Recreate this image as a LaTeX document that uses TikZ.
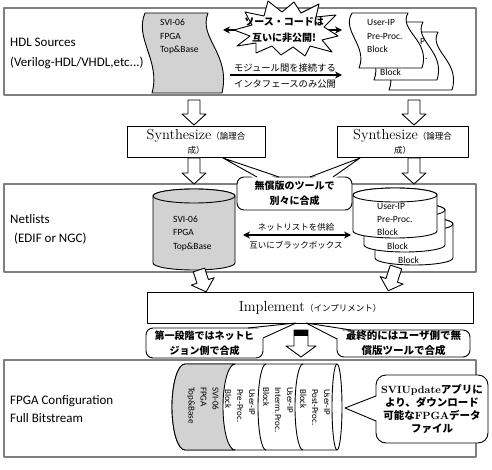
\documentclass[tikz,border=0pt]{standalone}
\usepackage{fontspec}
\usetikzlibrary{arrows.meta}
\newfontfamily\calfont{Carlito}
\newfontfamily\jpfont{Noto Sans CJK JP}
\definecolor{docgray}{RGB}{210,210,210}
\definecolor{panelgray}{RGB}{128,128,128}
% wavy document: x y w h fill
\newcommand{\wavydoc}[5]{%
  \draw[line width=0.9pt, fill=#5] (#1,#2) -- ({#1+#3},#2)
    .. controls ({#1+#3-10},{#2+0.32*#4}) and ({#1+#3+23},{#2+0.5*#4}) .. ({#1+#3+14},{#2+#4})
    -- ({#1+7},{#2+#4})
    .. controls ({#1+16},{#2+0.6*#4}) and ({#1-11},{#2+0.32*#4}) .. (#1,#2) -- cycle;}
% vertical cylinder: cx topcy botcy rx fill
\newcommand{\vcyl}[5]{%
  \draw[line width=0.9pt, fill=#5] ({#1-#4},#2) -- ({#1-#4},#3)
    arc[start angle=180, end angle=0, x radius=#4, y radius=7] -- ({#1+#4},#2)
    arc[start angle=0, end angle=-180, x radius=#4, y radius=7] -- cycle;
  \draw[line width=0.9pt, fill=#5] (#1,#2) ellipse[x radius=#4, y radius=7];}
% block arrow: cx ytop length rotation shafthalf headhalf
\newcommand{\barrow}[6]{%
  \begin{scope}[shift={(#1,#2)}, rotate=#4]
    \draw[line width=0.9pt, fill=white] (-#5,0) -- (#5,0) -- (#5,{#3-11}) -- (#6,{#3-11})
      -- (0,#3) -- (-#6,{#3-11}) -- (-#5,{#3-11}) -- cycle;
  \end{scope}}
\begin{document}
\begin{tikzpicture}[x=1pt, y=-1pt, line join=round,
  panel/.style={draw=panelgray, line width=1.2pt, fill=white},
  box/.style={draw=black, line width=0.9pt, fill=white, inner sep=0pt, align=center},
  callout/.style={draw=black, line width=0.9pt, fill=white, rounded corners=7pt, inner sep=0pt, align=center},
  lbl/.style={anchor=base west, inner sep=0pt, font=\calfont\fontsize{13}{15}\selectfont},
  doctext/.style={anchor=base west, inner sep=0pt, font=\calfont\fontsize{9.5}{11}\selectfont},
  jpsmall/.style={inner sep=0pt, font=\jpfont\fontsize{9.3}{11}\selectfont},
  jpnet/.style={inner sep=0pt, font=\jpfont\fontsize{8.5}{10}\selectfont},
  jpbold/.style={inner sep=0pt, font=\jpfont\bfseries\fontsize{10}{12}\selectfont},
  dbl/.style={line width=1.5pt, {Stealth[length=7pt,width=7pt]}-{Stealth[length=7pt,width=7pt]}},
  sgl/.style={line width=1.5pt, -{Stealth[length=7pt,width=7pt]}},
  rot/.style={rotate=-90, anchor=north west, inner sep=0pt, align=left, font=\calfont\fontsize{9}{12}\selectfont},
]
\useasboundingbox (0,0) rectangle (492,470);
\fill[white] (0,0) rectangle (492,470);

% ---------------- panels
\draw[panel] (4,8) rectangle (476,95);
\draw[panel] (4,184) rectangle (476,272);
\draw[panel] (4,360) rectangle (476,457);

% ---------------- panel 1
\node[lbl] (hdl1) at (10,47) {HDL Sources};
\node[lbl] (hdl2) at (10,67) {(Verilog-HDL/VHDL,etc...)};

\wavydoc{145}{13}{63}{80}{docgray}
\node[doctext] (g1) at (160,26) {SVI-06};
\node[doctext] (g2) at (160,40) {FPGA};
\node[doctext] (g3) at (160,53) {Top\&Base};

\wavydoc{382}{32}{56}{58}{white}
\wavydoc{367}{22}{56}{58}{white}
\node[doctext] (d21) at (420,45) {P};
\node[doctext] (d22) at (425,60) {.};
\node[doctext] (d23) at (380,76) {Block};
\wavydoc{352}{13}{56}{55}{white}
\node[doctext] (u1) at (367,26) {User-IP};
\node[doctext] (u2) at (367,40) {Pre-Proc.};
\node[doctext] (u3) at (367,53) {Block};

\coordinate (srcL) at (223,30);
\coordinate (srcR) at (342,30);
\draw[dbl] (srcL) -- (srcR);
\draw[line width=0.9pt, fill=white] (234,30) -- (252,25) -- (245,12) -- (264,16) -- (268,1) -- (282,12)
  -- (294,2) -- (301,13) -- (319,4) -- (316,17) -- (336,15) -- (324,27) -- (338,36) -- (322,40)
  -- (332,52) -- (310,46) -- (305,56) -- (293,47) -- (281,55) -- (272,46) -- (256,53) -- (256,43)
  -- (237,46) -- (250,36) -- cycle;
\node[jpbold] (st1) at (284,22) {ソース・コードは};
\node[jpbold] (st2) at (284,38) {互いに非公開!};

\node[jpsmall] (m1) at (285,68) {モジュール間を接続する};
\coordinate (ifL) at (230,75);
\coordinate (ifR) at (342,75);
\draw[sgl] (ifL) -- (ifR);
\node[jpsmall] (m2) at (285,84) {インタフェースのみ公開};

% ---------------- synthesize
\barrow{194}{100}{25}{0}{6}{12}
\barrow{414}{100}{25}{0}{6}{12}
\node[box, minimum width=138pt, minimum height=31pt, font=\fontsize{14.5}{14}\selectfont] (syn1) at (196,141.5)
  {Synthesize{\jpfont\fontsize{8.5}{10}\selectfont （論理合}\\{\jpfont\fontsize{8.5}{10}\selectfont 成）}};
\node[box, minimum width=131pt, minimum height=31pt, font=\fontsize{14.5}{14}\selectfont] (syn2) at (402.5,142)
  {Synthesize{\jpfont\fontsize{8.5}{10}\selectfont （論理合}\\{\jpfont\fontsize{8.5}{10}\selectfont 成）}};
\barrow{194}{158}{26}{0}{6}{12}
\barrow{414}{158}{26}{0}{6}{12}

% ---------------- panel 2
\node[lbl] (net1) at (10,224) {Netlists};
\node[lbl] (net2) at (14,243) {(EDIF or NGC)};

\vcyl{194}{196}{263}{41}{docgray}
\node[doctext] (c1) at (173,223) {SVI-06};
\node[doctext] (c2) at (173,236) {FPGA};
\node[doctext] (c3) at (173,250) {Top\&Base};

\vcyl{414}{224}{258}{39}{white}
\node[doctext] (b3) at (398,263) {Block};
\vcyl{404.5}{210}{245}{40.5}{white}
\node[doctext] (b2) at (387,250) {Block};
\vcyl{395}{195}{231}{42}{white}
\node[doctext] (f1) at (377,210) {User-IP};
\node[doctext] (f2) at (377,223) {Pre-Proc.};
\node[doctext] (f3) at (377,236) {Block};

\node[jpnet] (n1) at (296,227) {ネットリストを供給};
\coordinate (nlL) at (243,235);
\coordinate (nlR) at (351,235);
\draw[dbl] (nlL) -- (nlR);
\node[jpnet] (n2) at (296,245) {互いにブラックボックス};

% callout between the synthesize boxes
\node[callout, minimum width=115pt, minimum height=33pt, font=\jpfont\bfseries\fontsize{10}{15}\selectfont] (cfree) at (294.5,193.5)
  {無償版のツールで\\別々に合成};
\coordinate (tipA) at (223,158);
\coordinate (tipB) at (360,158);
\fill[white] (tipA) -- (256,179.5) -- (280,179.5) -- cycle;
\draw[line width=0.9pt] (257,177) -- (tipA) -- (279,177);
\fill[white] (tipB) -- (309,179.5) -- (334,179.5) -- cycle;
\draw[line width=0.9pt] (310,177) -- (tipB) -- (333,177);

% ---------------- implement
\barrow{199}{270}{23}{18}{6}{12}
\barrow{396}{267}{25}{-18}{6}{12}
\node[box, minimum width=326pt, minimum height=31pt, font=\fontsize{14.5}{14}\selectfont] (impl) at (310,307.5)
  {Implement{\jpfont\fontsize{8.5}{10}\selectfont （インプリメント）}};

\node[callout, minimum width=117pt, minimum height=30pt, font=\jpfont\bfseries\fontsize{10}{15}\selectfont] (cfirst) at (204.5,343)
  {第一段階ではネットビ\\ジョン側で合成};
\node[callout, minimum width=133pt, minimum height=27pt, font=\jpfont\bfseries\fontsize{10.5}{15}\selectfont] (cfinal) at (403.5,343.5)
  {最終的にはユーザ側で無\\償版ツールで合成};
\coordinate (tipC) at (296,323);
\coordinate (tipD) at (306,323);
\fill[white] (tipC) -- (246,330) -- (261,339) -- cycle;
\draw[line width=0.9pt] (248,328) -- (tipC) -- (263,338);
\fill[white] (tipD) -- (339,339) -- (351,332) -- cycle;
\draw[line width=0.9pt] (337,339) -- (tipD) -- (351,330);

\barrow{301}{330}{27}{0}{7}{15}
\fill[black] (294,330) rectangle (308,335.5);

% ---------------- panel 3
\node[lbl] (fp1) at (10,404) {FPGA Configuration};
\node[lbl] (fp2) at (10,422) {Full Bitstream};

\draw[line width=0.9pt, fill=white] (185,364) -- (337,364)
  arc[start angle=-90, end angle=90, x radius=5, y radius=43] -- (185,450)
  arc[start angle=90, end angle=270, x radius=13, y radius=43] -- cycle;
\draw[line width=0.9pt, fill=docgray] (185,364)
  arc[start angle=270, end angle=90, x radius=13, y radius=43] -- (235,450)
  arc[start angle=90, end angle=270, x radius=12, y radius=43] -- cycle;
\draw[line width=0.9pt] (266,364) arc[start angle=270, end angle=90, x radius=8, y radius=43];
\draw[line width=0.9pt] (303,364) arc[start angle=270, end angle=90, x radius=8, y radius=43];
\draw[line width=0.9pt] (337,364) arc[start angle=270, end angle=90, x radius=5, y radius=43];

\node[rot] (r1) at (219,387) {SVI-06\\FPGA\\Top\&Base};
\node[rot] (r2) at (255,389) {User-IP\\Pre-Proc.\\Block};
\node[rot] (r3) at (293,387) {User-IP\\Interm.Proc.\\Block};
\node[rot] (r4) at (330,389) {User-IP\\Post-Proc.\\Block};

\node[callout, rounded corners=10pt, minimum width=112pt, minimum height=68pt, font=\jpfont\bfseries\fontsize{10.5}{13.3}\selectfont] (cupd) at (432,409)
  {{\rmfamily\bfseries SVIUpdate}アプリに\\より、ダウンロード\\可能な{\rmfamily\bfseries FPGA}データ\\ファイル};
\coordinate (tipE) at (345,408);
\fill[white] (tipE) -- (378,396) -- (378,421) -- cycle;
\draw[line width=0.9pt] (376,396) -- (tipE) -- (376,421);
\end{tikzpicture}
\end{document}
